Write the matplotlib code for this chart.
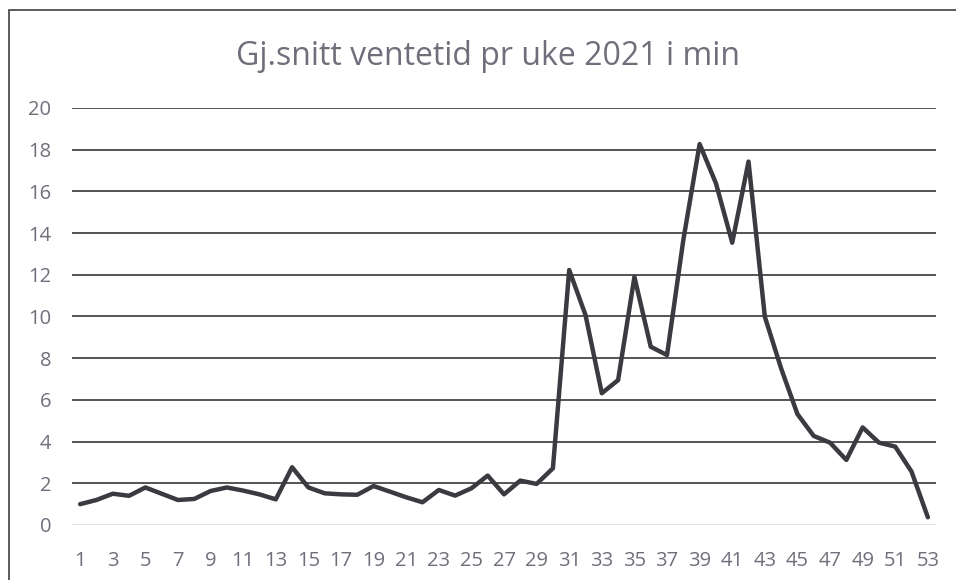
import numpy as np
import matplotlib
matplotlib.use('Agg')
import matplotlib.pyplot as plt
from matplotlib.patches import Rectangle

weeks = list(range(1, 54))
wait_min = [1.0, 1.2, 1.5, 1.4, 1.8, 1.5, 1.2, 1.25, 1.63, 1.8,
            1.65, 1.47, 1.23, 2.77, 1.8, 1.52, 1.47, 1.45, 1.87, 1.6,
            1.33, 1.09, 1.68, 1.41, 1.76, 2.37, 1.47, 2.13, 1.97, 2.72,
            12.23, 10.07, 6.32, 6.95, 11.9, 8.55, 8.15, 13.67, 18.27, 16.39,
            13.54, 17.43, 9.99, 7.51, 5.32, 4.27, 3.95, 3.12, 4.68, 3.95,
            3.76, 2.56, 0.37]
y_ticks = [0, 2, 4, 6, 8, 10, 12, 14, 16, 18, 20]
x_tick_weeks = weeks[::2]

plt.rcParams['font.family'] = ['Open Sans', 'DejaVu Sans']
txt_col = '#6f6f7c'

fig = plt.figure(figsize=(9.56, 5.8), dpi=100)
W, H = 956, 580
ax = fig.add_axes([72 / W, (H - 525) / H, 864 / W, 417 / H])

# chart border (cut off at right and bottom like the screenshot)
fig.patches.append(Rectangle((9 / W, -0.1), 1.2, (H - 10) / H + 0.1,
                             transform=fig.transFigure, fill=False,
                             edgecolor='#404040', lw=1.2))

for y in y_ticks[1:]:
    ax.axhline(y, color='#262626', lw=1.1, zorder=1)
ax.axhline(0, color='#d9d9d9', lw=1.1, zorder=1)

ax.plot(weeks, wait_min, color='#3a3a40', lw=3.2, solid_joinstyle='round',
        solid_capstyle='round', zorder=3)

ax.set_xlim(0.5, 53.5)
ax.set_ylim(0, 20)
ax.set_yticks(y_ticks)
ax.set_xticks(x_tick_weeks)
ax.set_xticklabels([str(w) for w in x_tick_weeks])
for s in ax.spines.values():
    s.set_visible(False)
ax.tick_params(axis='both', length=0, labelsize=14.5, colors=txt_col)
ax.tick_params(axis='y', pad=15)
ax.tick_params(axis='x', pad=19)

fig.text(488 / W, 1 - 65 / H, 'Gj.snitt ventetid pr uke 2021 i min',
         ha='center', va='baseline', fontsize=23, color=txt_col)

fig.savefig('out.png', dpi=100)
